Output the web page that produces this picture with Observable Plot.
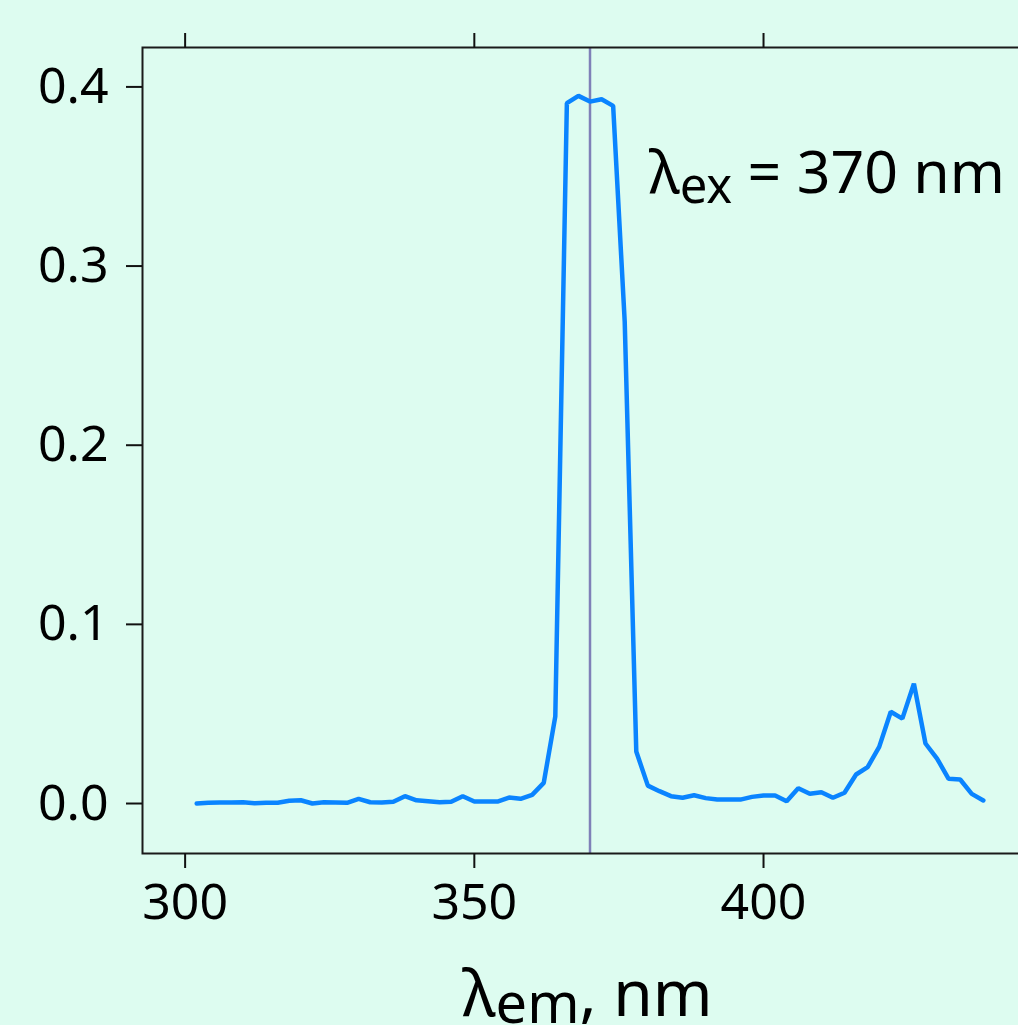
<!DOCTYPE html>
<html><head><meta charset="utf-8">
<script src="https://cdn.jsdelivr.net/npm/d3@7"></script>
<script src="https://cdn.jsdelivr.net/npm/@observablehq/plot@0.6"></script>
<style>
html,body{margin:0;padding:0;background:#ddfcf0;overflow:hidden;width:1018px;height:1025px}
#chart svg{display:block;max-width:none !important}
</style></head><body><div id="chart"></div>
<script>
const wavelength = [302,304,306,308,310,312,314,316,318,320,322,324,326,328,330,332,334,336,338,340,
  342,344,346,348,350,352,354,356,358,360,362,364,366,368,370,372,374,376,378,380,
  382,384,386,388,390,392,394,396,398,400,402,404,406,408,410,412,414,416,418,420,
  422,424,426,428,430,432,434,436,438];
const intensity = [0.0000,0.0004,0.0006,0.0006,0.0007,0.0002,0.0004,0.0004,0.0015,0.0018,
  0.0000,0.0007,0.0006,0.0004,0.0026,0.0007,0.0006,0.0010,0.0041,0.0018,
  0.0013,0.0007,0.0010,0.0041,0.0011,0.0011,0.0011,0.0033,0.0026,0.0048,
  0.0115,0.0487,0.3909,0.3950,0.3918,0.3931,0.3894,0.2690,0.0290,0.0100,
  0.0069,0.0041,0.0032,0.0046,0.0030,0.0022,0.0022,0.0022,0.0037,0.0045,
  0.0045,0.0013,0.0085,0.0054,0.0063,0.0032,0.0060,0.0162,0.0203,0.0316,
  0.0512,0.0474,0.0669,0.0335,0.0251,0.0138,0.0134,0.0054,0.0017];
const excitation = [370];
const xTicks = [300, 350, 400];
const yTicks = [0, 0.1, 0.2, 0.3, 0.4];
const annotationText = ["λex = 370 nm"];
const xTitle = ["λem, nm"];

const data = wavelength.map((w, i) => ({w, v: intensity[i]}));

const plot = Plot.plot({
  width: 1030, height: 1025,
  marginLeft: 142, marginRight: 6, marginTop: 47, marginBottom: 172,
  style: {background: "#ddfcf0", fontFamily: "'Noto Sans', sans-serif", fontSize: "50px", color: "#000", overflow: "visible", maxWidth: "none"},
  x: {domain: [292.63, 445.12]},
  y: {domain: [-0.0279, 0.422]},
  marks: [
    Plot.ruleX(excitation, {stroke: "#7f80b8", strokeWidth: 2.5}),
    Plot.line(data, {x: "w", y: "v", stroke: "#0a84ff", strokeWidth: 4.5, strokeLinejoin: "miter"}),
    Plot.frame({stroke: "#1a1a1a", strokeWidth: 2}),
    Plot.axisX({anchor: "bottom", ticks: xTicks, tickSize: 15, tickPadding: 15, strokeWidth: 2, stroke: "#111", label: null, tickFormat: d => String(d), fill: "#000"}),
    Plot.axisX({anchor: "top", ticks: xTicks, tickSize: 15, strokeWidth: 2, stroke: "#111", label: null, tickFormat: () => ""}),
    Plot.axisY({anchor: "left", ticks: yTicks, tickSize: 16, tickPadding: 18, strokeWidth: 2, stroke: "#111", label: null, tickFormat: ".1f", fill: "#000"}),
    Plot.text(annotationText, {x: excitation[0], frameAnchor: "top", dx: 59, dy: 145, textAnchor: "start", lineAnchor: "bottom", fontSize: 59, fill: "#000"}),
    Plot.text(xTitle, {frameAnchor: "bottom", dx: 4, dy: 162, textAnchor: "middle", lineAnchor: "bottom", fontSize: 64, fill: "#000"})
  ]
});
document.getElementById("chart").append(plot);

function subscriptify(full, base, sub, rest, subSize, shift) {
  d3.select(plot).selectAll("text").filter(function() { return this.textContent === full; }).each(function() {
    const t = d3.select(this);
    t.text(null);
    t.append("tspan").text(base);
    t.append("tspan").attr("font-size", subSize).attr("dy", shift).text(sub);
    t.append("tspan").attr("dy", -shift).text(rest);
  });
}
subscriptify("λex = 370 nm", "λ", "ex", " = 370 nm", 49, 10);
subscriptify("λem, nm", "λ", "em", ", nm", 56, 7);
</script></body></html>
